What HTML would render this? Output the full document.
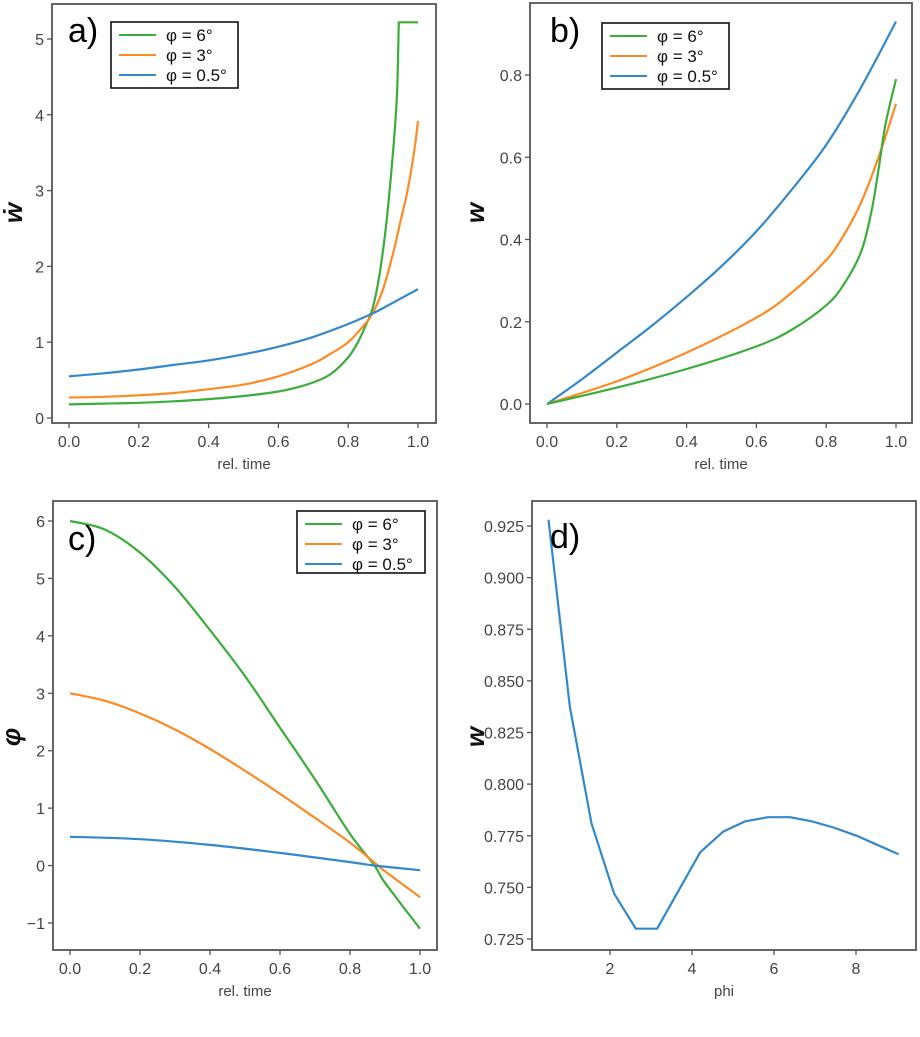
<!DOCTYPE html>
<html><head><meta charset="utf-8">
<style>
body{margin:0;background:#fff;}
svg{display:block;font-family:"Liberation Sans","DejaVu Sans",sans-serif;}
</style></head>
<body>
<svg id="fig" width="920" height="1037" viewBox="0 0 920 1037"></svg>
<script>
// ---- data ----
const tA = [0,0.1,0.2,0.3,0.4,0.5,0.6,0.65,0.7,0.75,0.8,0.83,0.85,0.87,0.89,0.91,0.93,0.94,0.945,1.0];
const aGreen = [0.18,0.19,0.2,0.22,0.25,0.29,0.35,0.4,0.47,0.58,0.8,1.02,1.22,1.45,1.9,2.6,3.6,4.3,5.22,5.22];
const tA2 = [0,0.1,0.2,0.3,0.4,0.5,0.6,0.7,0.75,0.8,0.85,0.87,0.9,0.93,0.95,0.97,0.99,1.0];
const aOrange = [0.27,0.28,0.3,0.33,0.38,0.44,0.55,0.72,0.85,1.0,1.25,1.38,1.7,2.2,2.6,3.0,3.55,3.92];
const tA3 = [0,0.1,0.2,0.3,0.4,0.5,0.6,0.7,0.8,0.87,0.9,1.0];
const aBlue = [0.55,0.59,0.64,0.7,0.76,0.84,0.94,1.07,1.24,1.38,1.45,1.7];

const tB = [0,0.1,0.2,0.3,0.4,0.5,0.6,0.7,0.8,0.9,1.0];
const bBlue = [0,0.06,0.125,0.19,0.26,0.335,0.42,0.52,0.63,0.77,0.93];
const tB2 = [0,0.2,0.4,0.6,0.7,0.8,0.85,0.9,0.95,1.0];
const bOrange = [0,0.055,0.125,0.21,0.27,0.35,0.41,0.49,0.6,0.73];
const tB3 = [0,0.2,0.4,0.6,0.7,0.8,0.85,0.9,0.93,0.95,0.97,1.0];
const bGreen = [0,0.04,0.085,0.14,0.18,0.24,0.29,0.37,0.47,0.57,0.68,0.79];

const tC = [0,0.1,0.2,0.3,0.4,0.5,0.6,0.7,0.8,0.87,0.9,1.0];
const cGreen = [6,5.85,5.45,4.85,4.1,3.3,2.4,1.5,0.55,0,-0.3,-1.1];
const cOrange = [3,2.87,2.65,2.37,2.03,1.65,1.25,0.83,0.4,0.05,-0.1,-0.55];
const tC2 = [0,0.2,0.4,0.6,0.8,0.87,1.0];
const cBlue = [0.5,0.46,0.36,0.22,0.06,0,-0.08];

const dPhi = [0.5,1.02,1.55,2.1,2.63,3.15,4.2,4.76,5.3,5.85,6.39,6.92,7.45,8.02,9.04];
const dW = [0.928,0.8376,0.781,0.747,0.730,0.730,0.767,0.777,0.782,0.784,0.784,0.782,0.779,0.775,0.766];

const timeTicks = [0,0.2,0.4,0.6,0.8,1.0];
const timeTickLabels = ["0.0","0.2","0.4","0.6","0.8","1.0"];
const aYTicks = [0,1,2,3,4,5];
const bYTicks = [0,0.2,0.4,0.6,0.8];
const bYTickLabels = ["0.0","0.2","0.4","0.6","0.8"];
const cYTicks = [-1,0,1,2,3,4,5,6];
const cYTickLabels = ["\u22121","0","1","2","3","4","5","6"];
const dXTicks = [2,4,6,8];
const dYTicks = [0.725,0.75,0.775,0.8,0.825,0.85,0.875,0.9,0.925];
const dYTickLabels = ["0.725","0.750","0.775","0.800","0.825","0.850","0.875","0.900","0.925"];
const legendLabels = ["\u03c6 = 6\u00b0","\u03c6 = 3\u00b0","\u03c6 = 0.5\u00b0"];

const GREEN="#3aad3a", ORANGE="#ff8a24", BLUE="#3388cc";
const NS="http://www.w3.org/2000/svg";
const svg=document.getElementById('fig');
function mk(tag,attrs,parent){const e=document.createElementNS(NS,tag);for(const k in attrs)e.setAttribute(k,attrs[k]);(parent||svg).appendChild(e);return e;}

function smoothPath(pts){
  let d='M'+pts[0][0].toFixed(1)+','+pts[0][1].toFixed(1);
  for(let i=0;i<pts.length-1;i++){
    const p0=pts[Math.max(0,i-1)],p1=pts[i],p2=pts[i+1],p3=pts[Math.min(pts.length-1,i+2)];
    const c1=[p1[0]+(p2[0]-p0[0])/6,p1[1]+(p2[1]-p0[1])/6];
    const c2=[p2[0]-(p3[0]-p1[0])/6,p2[1]-(p3[1]-p1[1])/6];
    d+=` C${c1[0].toFixed(1)},${c1[1].toFixed(1)} ${c2[0].toFixed(1)},${c2[1].toFixed(1)} ${p2[0].toFixed(1)},${p2[1].toFixed(1)}`;
  }
  return d;
}

function panel(o){
  const g=mk('g',{});
  
  
  const sx=v=>o.px0+(v-o.x0)*(o.px1-o.px0)/(o.x1-o.x0);
  const sy=v=>o.py0+(v-o.y0)*(o.py1-o.py0)/(o.y1-o.y0);
  const fr=mk('rect',{x:o.fx,y:o.fy,width:o.fw,height:o.fh,fill:'none',stroke:'#555','stroke-width':1.8},g);
  
  
  const bot=o.fy+o.fh;
  o.xt.forEach((v,i)=>{
    const x=sx(v);
    mk('line',{x1:x,x2:x,y1:bot,y2:bot+5,stroke:'#555','stroke-width':1.3},g);
    const t=mk('text',{x:x,y:bot+24,'text-anchor':'middle','font-size':16,fill:'#444'},g);
    t.textContent=o.xl[i];
    
    
  });
  o.yt.forEach((v,i)=>{
    const y=sy(v);
    mk('line',{x1:o.fx-5,x2:o.fx,y1:y,y2:y,stroke:'#555','stroke-width':1.3},g);
    const t=mk('text',{x:o.fx-8,y:y+6,'text-anchor':'end','font-size':16,fill:'#444'},g);
    t.textContent=o.yl[i];
    
    
  });
  const xt=mk('text',{x:o.fx+o.fw/2,y:bot+46,'text-anchor':'middle','font-size':15,fill:'#444'},g);
  xt.textContent=o.xtitle;
  
  
  const yt=mk('text',{x:0,y:0,'text-anchor':'middle','font-size':26,'font-weight':'bold','font-style':'italic',fill:'#111',transform:`translate(${o.ylx},${o.yly}) rotate(-90)`},g);
  yt.textContent=o.ytitle;
  
  
  o.series.forEach(s=>{
    const pts=s.xs.map((x,i)=>[sx(x),sy(s.ys[i])]);
    let d;
    if(s.smooth){
      // split where x repeats closely (step) -> keep straight tail
      d=smoothPath(s.tail?pts.slice(0,pts.length-1):pts);
      if(s.tail){const l=pts[pts.length-1];d+=` L${l[0].toFixed(1)},${l[1].toFixed(1)}`;}
    } else d=pts.map((p,i)=>(i?'L':'M')+p[0].toFixed(1)+','+p[1].toFixed(1)).join(' ');
    const p=mk('path',{d:d,fill:'none',stroke:s.c,'stroke-width':2.2,'stroke-linejoin':'round'},g);
    
    
  });
  const pl=mk('text',{x:o.plx,y:o.ply,'font-size':34,fill:'#000'},g);
  pl.textContent=o.plabel;
  
  
  if(o.leg){
    const L=o.leg;
    const lg=mk('g',{},g);
    
    
    mk('rect',{x:L.x,y:L.y,width:L.w,height:L.h,fill:'#fff',stroke:'#111','stroke-width':1.6},lg);
    [GREEN,ORANGE,BLUE].forEach((c,i)=>{
      const yy=L.y+13+i*20;
      mk('line',{x1:L.x+8,x2:L.x+45,y1:yy,y2:yy,stroke:c,'stroke-width':2},lg);
      const t=mk('text',{x:L.x+55,y:yy+6,'font-size':17,fill:'#111'},lg);
      t.textContent=legendLabels[i];
      
      
    });
  }
}

panel({name:'panel-a',fx:52,fy:4,fw:384,fh:419,x0:0,x1:1,px0:69,px1:418,y0:0,y1:5,py0:418,py1:39,
  xt:timeTicks,xl:timeTickLabels,yt:aYTicks,yl:aYTicks.map(String),xtitle:'rel. time',ytitle:'\u1e87',ylx:22,yly:213,
  plabel:'a)',plx:68,ply:42,leg:{x:111,y:22,w:127,h:66},
  series:[{xs:tA,ys:aGreen,c:GREEN,n:'line-phi-6',smooth:true,tail:true},{xs:tA2,ys:aOrange,c:ORANGE,n:'line-phi-3',smooth:true},{xs:tA3,ys:aBlue,c:BLUE,n:'line-phi-0-5',smooth:true}]});

panel({name:'panel-b',fx:530,fy:3,fw:382,fh:420,x0:0,x1:1,px0:547,px1:896,y0:0,y1:0.8,py0:404,py1:75,
  xt:timeTicks,xl:timeTickLabels,yt:bYTicks,yl:bYTickLabels,xtitle:'rel. time',ytitle:'w',ylx:484,yly:213,
  plabel:'b)',plx:550,ply:42,leg:{x:602,y:23,w:127,h:66},
  series:[{xs:tB,ys:bBlue,c:BLUE,n:'line-phi-0-5',smooth:true},{xs:tB2,ys:bOrange,c:ORANGE,n:'line-phi-3',smooth:true},{xs:tB3,ys:bGreen,c:GREEN,n:'line-phi-6',smooth:true}]});

panel({name:'panel-c',fx:53,fy:501,fw:384,fh:449,x0:0,x1:1,px0:70,px1:420,y0:6,y1:-1,py0:521,py1:923,
  xt:timeTicks,xl:timeTickLabels,yt:cYTicks,yl:cYTickLabels,xtitle:'rel. time',ytitle:'\u03c6',ylx:20,yly:737,
  plabel:'c)',plx:68,ply:550,leg:{x:297,y:511,w:128,h:62},
  series:[{xs:tC,ys:cGreen,c:GREEN,n:'line-phi-6',smooth:true},{xs:tC,ys:cOrange,c:ORANGE,n:'line-phi-3',smooth:true},{xs:tC2,ys:cBlue,c:BLUE,n:'line-phi-0-5',smooth:true}]});

panel({name:'panel-d',fx:532,fy:501,fw:384,fh:449,x0:2,x1:8,px0:610,px1:856,y0:0.925,y1:0.725,py0:526,py1:939,
  xt:dXTicks,xl:dXTicks.map(String),yt:dYTicks,yl:dYTickLabels,xtitle:'phi',ytitle:'w',ylx:484,yly:737,
  plabel:'d)',plx:550,ply:548,leg:null,
  series:[{xs:dPhi,ys:dW,c:BLUE,n:'line-w-vs-phi'}]});
</script>
</body></html>
